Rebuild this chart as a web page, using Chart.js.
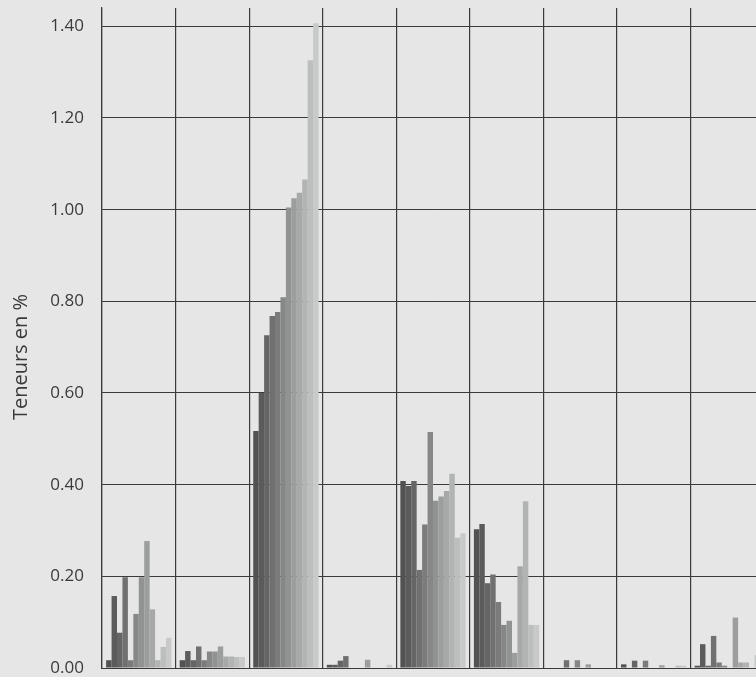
<!DOCTYPE html>
<html>
<head>
<meta charset="utf-8">
<script src="https://cdn.jsdelivr.net/npm/chart.js@4/dist/chart.umd.min.js"></script>
<style>
  html, body { margin: 0; padding: 0; background: #e5e6e5; overflow: hidden; }
  #wrap { position: absolute; left: 0; top: 0; width: 766px; height: 677px; }
</style>
</head>
<body>
<div id="wrap"><canvas id="c" width="766" height="677"></canvas></div>
<script>
// Categories (groups of bars, no visible labels)
const categories = ['1', '2', '3', '4', '5', '6', '7', '8', '9'];

// Values per group (12 bars each, dark -> light)
const group1 = [0.017, 0.157, 0.077, 0.198, 0.017, 0.118, 0.198, 0.277, 0.128, 0.017, 0.046, 0.066];
const group2 = [0.017, 0.037, 0.017, 0.047, 0.017, 0.036, 0.036, 0.047, 0.025, 0.025, 0.024, 0.024];
const group3 = [0.517, 0.600, 0.726, 0.768, 0.777, 0.809, 1.005, 1.025, 1.037, 1.066, 1.326, 1.407];
const group4 = [0.007, 0.007, 0.016, 0.026, 0, 0, 0, 0.018, 0, 0, 0, 0.007];
const group5 = [0.408, 0.397, 0.408, 0.214, 0.313, 0.515, 0.365, 0.374, 0.386, 0.424, 0.284, 0.294];
const group6 = [0.303, 0.314, 0.185, 0.204, 0.144, 0.094, 0.103, 0.033, 0.222, 0.364, 0.094, 0.094];
const group7 = [0, 0, 0, 0.017, 0, 0.017, 0, 0.008, 0, 0, 0, 0];
const group8 = [0.008, 0, 0.016, 0, 0.016, 0, 0, 0.006, 0, 0, 0.005, 0.005];
const group9 = [0.005, 0.052, 0.005, 0.070, 0.012, 0.005, 0, 0.110, 0.012, 0.012, 0, 0.028];

// Y axis ticks
const tickValues = [0, 0.2, 0.4, 0.6, 0.8, 1.0, 1.2, 1.4];
const tickLabels = ['0.00', '0.20', '0.40', '0.60', '0.80', '1.00', '1.20', '1.40'];
const yTitle = 'Teneurs en %';

// Bar shades (position within a group)
const barColors = ['#525253', '#5b5b5c', '#656566', '#707071', '#7b7b7c', '#868787',
                   '#919292', '#9c9d9d', '#a7a8a8', '#b2b3b3', '#bdbebe', '#c8caca'];

const groups = [group1, group2, group3, group4, group5, group6, group7, group8, group9];
const datasets = barColors.map((col, i) => ({
  label: 'b' + (i + 1),
  data: groups.map(g => g[i]),
  backgroundColor: col,
  borderWidth: 0,
  barPercentage: 1,
  categoryPercentage: 0.888
}));

const titlePlugin = {
  id: 'yTitle',
  afterDraw(chart) {
    const ctx = chart.ctx;
    ctx.save();
    ctx.translate(21, 357);
    ctx.rotate(-Math.PI / 2);
    ctx.font = '20px "Open Sans"';
    ctx.fillStyle = '#3a3a3a';
    ctx.textAlign = 'center';
    ctx.textBaseline = 'middle';
    ctx.fillText(yTitle, 0, 0);
    ctx.restore();
  }
};

new Chart(document.getElementById('c'), {
  type: 'bar',
  data: { labels: categories, datasets },
  options: {
    responsive: false,
    animation: false,
    devicePixelRatio: 1,
    layout: { padding: { top: 8, bottom: 9, left: 0, right: 2 } },
    plugins: { legend: { display: false }, tooltip: { enabled: false } },
    scales: {
      x: {
        z: 1,
        offset: true,
        ticks: { display: false },
        grid: { offset: true, color: '#3a3a3a', lineWidth: 1.2, drawTicks: false },
        border: { display: true, color: '#3a3a3a', width: 1 },
        afterFit(s) { s.height = 0; s.paddingLeft = 0; s.paddingRight = 0; }
      },
      y: {
        z: 1,
        min: 0,
        max: 1.44,
        afterBuildTicks(s) { s.ticks = tickValues.map(v => ({ value: v })); },
        afterFit(s) { s.width = 102; s.paddingTop = 0; s.paddingBottom = 0; },
        ticks: {
          padding: 18,
          color: '#3a3a3a',
          font: { family: '"Open Sans"', size: 17 },
          callback: (v, i) => tickLabels[i]
        },
        grid: { color: '#3a3a3a', lineWidth: 1, drawTicks: false },
        border: { display: true, color: '#3a3a3a', width: 1.2 }
      }
    }
  },
  plugins: [titlePlugin]
});
</script>
</body>
</html>
